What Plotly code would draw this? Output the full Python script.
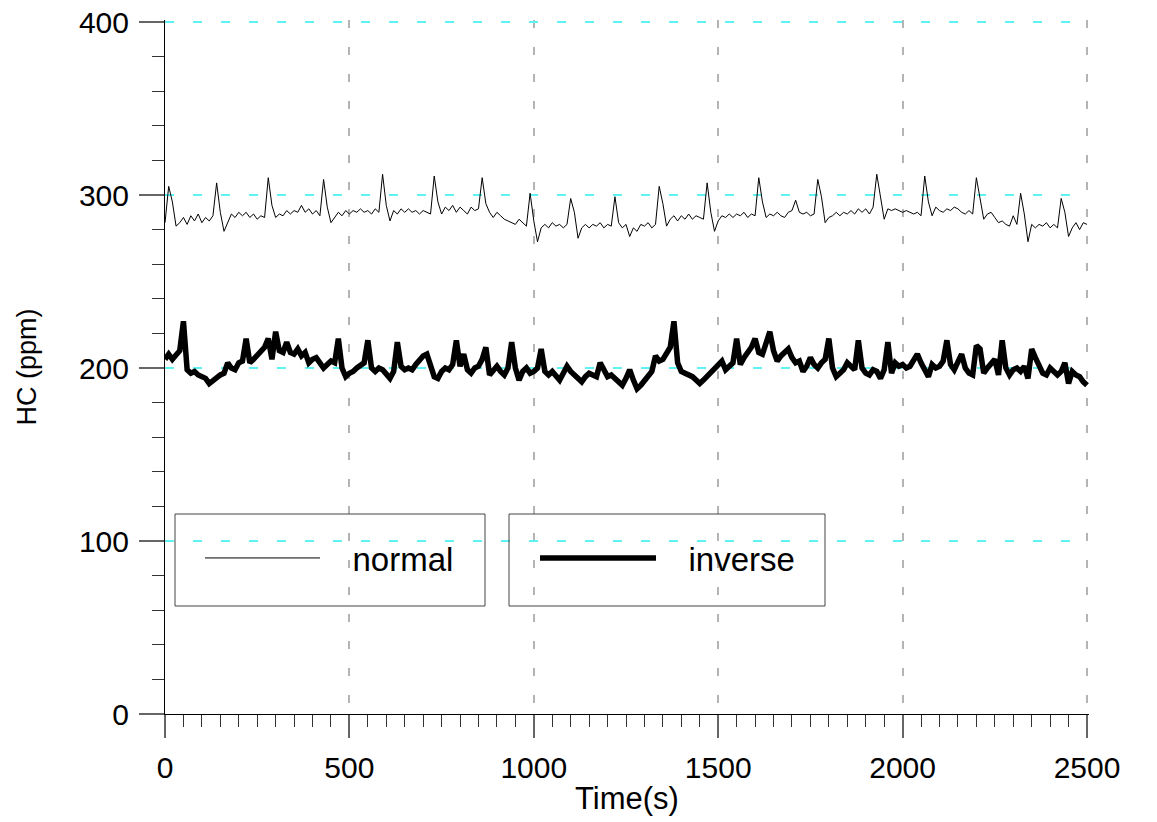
import plotly.graph_objects as go

# time axis (s), sampled every 10 s
time_s = list(range(0, 2501, 10))

hc_normal = [
    284, 305, 296, 282, 284, 287, 283, 288, 285, 289,   # 0-90
    284, 287, 285, 288, 307, 290, 279, 284, 289, 287,   # 100-190
    290, 288, 290, 287, 289, 286, 288, 287, 310, 294,   # 200-290
    287, 289, 288, 291, 289, 291, 290, 294, 290, 292,   # 300-390
    289, 291, 288, 309, 293, 284, 287, 290, 288, 291,   # 400-490
    289, 291, 290, 292, 290, 291, 289, 292, 290, 312,   # 500-590
    294, 285, 291, 289, 292, 290, 292, 290, 291, 289,   # 600-690
    291, 290, 289, 311, 296, 289, 293, 291, 294, 290,   # 700-790
    293, 291, 289, 293, 291, 292, 310, 295, 290, 287,   # 800-890
    290, 288, 286, 285, 284, 283, 286, 284, 282, 301,   # 900-990
    285, 273, 281, 283, 281, 284, 282, 283, 281, 283,   # 1000-1090
    298, 290, 275, 281, 283, 281, 283, 282, 284, 281,   # 1100-1190
    283, 282, 299, 284, 281, 283, 276, 281, 279, 283,   # 1200-1290
    282, 284, 281, 283, 305, 295, 282, 286, 288, 285,   # 1300-1390
    288, 286, 289, 286, 288, 287, 286, 307, 290, 279,   # 1400-1490
    285, 288, 287, 289, 287, 289, 288, 290, 287, 289,   # 1500-1590
    288, 310, 296, 287, 289, 288, 290, 288, 287, 290,   # 1600-1690
    291, 297, 290, 289, 290, 288, 289, 309, 299, 284,   # 1700-1790
    287, 288, 290, 288, 290, 289, 291, 289, 292, 290,   # 1800-1890
    292, 289, 293, 312, 298, 286, 292, 291, 292, 291,   # 1900-1990
    290, 291, 290, 289, 290, 288, 311, 296, 288, 293,   # 2000-2090
    291, 290, 292, 291, 293, 292, 290, 289, 291, 289,   # 2100-2190
    310, 298, 286, 289, 290, 287, 284, 285, 283, 282,   # 2200-2290
    288, 283, 301, 289, 273, 283, 281, 283, 282, 284,   # 2300-2390
    281, 283, 281, 298, 290, 276, 281, 284, 280, 284,   # 2400-2490
    283,                                                # 2500
]

hc_inverse = [
    205, 208, 205, 207, 210, 227, 199, 197, 198, 196,   # 0-90
    195, 194, 191, 193, 195, 196, 197, 203, 200, 199,   # 100-190
    203, 204, 217, 203, 205, 207, 210, 212, 217, 205,   # 200-290
    221, 210, 209, 215, 209, 208, 211, 207, 209, 203,   # 300-390
    205, 206, 203, 200, 202, 204, 203, 217, 200, 195,   # 400-490
    197, 198, 200, 202, 203, 216, 200, 198, 200, 199,   # 500-590
    196, 194, 198, 215, 201, 199, 200, 199, 202, 205,   # 600-690
    207, 208, 200, 195, 194, 198, 200, 199, 202, 216,   # 700-790
    201, 208, 199, 197, 200, 201, 205, 212, 196, 199,   # 800-890
    201, 198, 196, 200, 215, 200, 193, 198, 200, 197,   # 900-990
    198, 200, 211, 198, 196, 198, 195, 193, 197, 201,   # 1000-1090
    198, 196, 194, 192, 195, 197, 196, 195, 203, 198,   # 1100-1190
    195, 196, 194, 192, 190, 194, 199, 193, 188, 190,   # 1200-1290
    193, 195, 198, 207, 204, 205, 208, 212, 227, 203,   # 1300-1390
    198, 197, 196, 195, 193, 191, 193, 195, 197, 199,   # 1400-1490
    201, 204, 199, 201, 203, 217, 202, 206, 209, 212,   # 1500-1590
    217, 209, 208, 214, 221, 210, 204, 207, 209, 211,   # 1600-1690
    206, 203, 204, 198, 201, 206, 202, 200, 203, 205,   # 1700-1790
    217, 200, 195, 197, 199, 203, 201, 199, 216, 200,   # 1800-1890
    197, 196, 199, 198, 194, 199, 215, 197, 203, 201,   # 1900-1990
    202, 200, 201, 205, 208, 203, 199, 195, 202, 200,   # 2000-2090
    201, 204, 216, 202, 199, 203, 208, 200, 197, 196,   # 2100-2190
    213, 211, 197, 200, 203, 205, 196, 216, 200, 196,   # 2200-2290
    199, 200, 198, 201, 194, 211, 206, 202, 197, 196,   # 2300-2390
    200, 198, 196, 198, 203, 191, 198, 196, 195, 192,   # 2400-2490
    190,                                                # 2500
]

x_ticks = [0, 500, 1000, 1500, 2000, 2500]
y_ticks = [0, 100, 200, 300, 400]

FONT = "Liberation Sans, Arial, sans-serif"
PAD = "\u00a0\u00a0\u00a0"

fig = go.Figure()
fig.add_trace(go.Scatter(x=time_s, y=hc_normal, mode="lines", name=PAD + "normal",
                         line=dict(color="black", width=1), legend="legend"))
fig.add_trace(go.Scatter(x=time_s, y=hc_inverse, mode="lines", name=PAD + "inverse",
                         line=dict(color="black", width=5.5), legend="legend2"))

W, H = 1157, 822
L, R, T, B = 165, 68, 20, 108
pw, ph = W - L - R, H - T - B
# extend ranges slightly so the edge gridlines (400, 2500) are drawn
x_max = 2500 * pw / 922.0
y_max = 400 * ph / 692.0

def px(xp):
    return (xp - L) / pw

def py(yp):
    return (H - B - yp) / ph

fig.update_layout(
    width=W, height=H,
    margin=dict(l=L, r=R, t=T, b=B),
    paper_bgcolor="white", plot_bgcolor="white",
    font=dict(family=FONT, size=30, color="black"),
    showlegend=True,
    legend=dict(x=px(200), y=py(558), xanchor="left", yanchor="middle",
                bgcolor="rgba(0,0,0,0)", borderwidth=0,
                font=dict(family=FONT, size=33), itemwidth=115),
    legend2=dict(x=px(535), y=py(558), xanchor="left", yanchor="middle",
                 bgcolor="rgba(0,0,0,0)", borderwidth=0,
                 font=dict(family=FONT, size=33), itemwidth=116),
    shapes=[
        dict(type="rect", xref="paper", yref="paper",
             x0=px(175), x1=px(485), y0=py(606), y1=py(514),
             line=dict(color="#444", width=1)),
        dict(type="rect", xref="paper", yref="paper",
             x0=px(509), x1=px(825), y0=py(606), y1=py(514),
             line=dict(color="#444", width=1)),
    ],
)

fig.update_xaxes(
    range=[0, x_max], tickvals=x_ticks, ticktext=[str(v) for v in x_ticks],
    automargin=False,
    showline=True, linecolor="black", linewidth=1,
    ticks="outside", ticklen=23, tickwidth=1.5, tickcolor="#666",
    minor=dict(dtick=50, tick0=0, ticks="outside", ticklen=12, tickwidth=1,
               tickcolor="#333", showgrid=False),
    showgrid=True, gridcolor="#b4b4b4", gridwidth=1.5, griddash="8px,19px",
    zeroline=False,
    tickfont=dict(size=30), ticklabelstandoff=4,
    title=dict(text="Time(s)", font=dict(size=31), standoff=4),
)
fig.update_yaxes(
    range=[0, y_max], tickvals=y_ticks, ticktext=[str(v) for v in y_ticks],
    automargin=False,
    showline=True, linecolor="black", linewidth=1,
    ticks="outside", ticklen=25, tickwidth=1.5, tickcolor="#666",
    minor=dict(dtick=20, tick0=0, ticks="outside", ticklen=12, tickwidth=1,
               tickcolor="#333", showgrid=False),
    showgrid=True, gridcolor="#5ef2f2", gridwidth=1.5, griddash="9px,19px",
    zeroline=False,
    tickfont=dict(size=30), ticklabelstandoff=4,
    title=dict(text="HC (ppm)", font=dict(size=27), standoff=34),
)

fig.write_html("out.html")
